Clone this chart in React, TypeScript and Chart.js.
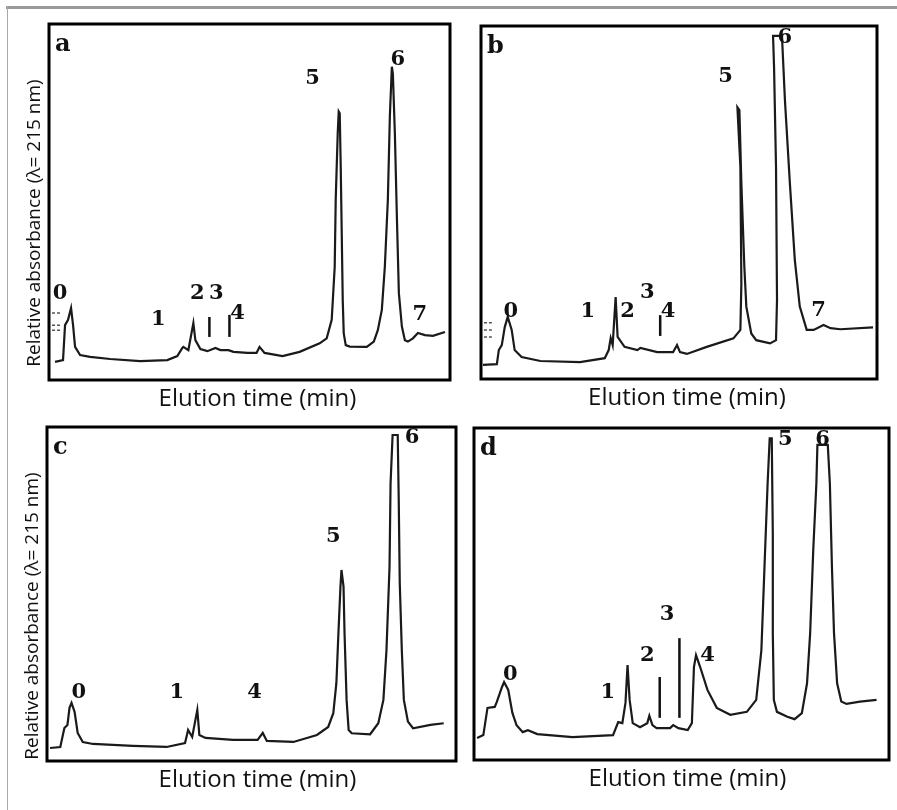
import React, { useEffect, useRef } from "react";
import { Chart, registerables } from "chart.js";

Chart.register(...registerables);

// ---------------- DATA ----------------
// Elution time (arbitrary min, 0-40) and relative absorbance (0-100)

// Panel a
const timeA = [0.6, 1.4, 1.6, 1.9, 2.2, 2.4, 2.6, 3.1, 4.1, 6.1, 9.1, 11.8, 12.8, 13.3, 13.4, 13.9, 14.4, 14.6, 15.1, 15.8, 16.6, 17.1, 17.9, 18.4, 19.8, 20.7, 21.0, 21.5, 23.3, 25.0, 27.0, 27.7, 28.2, 28.5, 28.6, 28.8, 28.9, 29.0, 29.1, 29.2, 29.3, 29.4, 29.6, 30.0, 31.7, 32.4, 32.8, 33.2, 33.5, 33.8, 34.0, 34.2, 34.3, 34.5, 34.7, 34.9, 35.2, 35.5, 35.8, 36.3, 36.8, 37.5, 38.3, 39.5];
const absA = [5.1, 5.6, 15.4, 16.9, 20.2, 15.4, 9.3, 7.0, 6.5, 5.9, 5.3, 5.6, 6.7, 9.0, 9.3, 8.4, 16.0, 11.2, 8.7, 8.1, 9.0, 8.4, 8.4, 7.9, 7.6, 7.6, 9.3, 7.6, 6.7, 7.9, 10.3, 11.7, 16.9, 31.8, 50.6, 69.3, 75.4, 74.9, 59.9, 41.2, 22.5, 13.1, 9.8, 9.4, 9.3, 10.8, 14.0, 19.7, 31.8, 50.6, 74.0, 88.0, 86.1, 69.3, 45.9, 24.4, 15.0, 11.2, 10.8, 11.7, 13.2, 12.6, 12.4, 13.5];
const peakNamesA = ["0", "1", "2", "3", "4", "5", "6", "7"];
const peakTimeA = [1.1, 10.9, 14.8, 16.7, 18.8, 26.3, 34.8, 37.0];
const peakAbsA = [24.4, 16.9, 24.4, 24.4, 18.8, 84.8, 89.9, 18.3];
const markTimeA = [16.0, 18.0];
const markLowA = [12.1, 12.1];
const markHighA = [17.7, 18.3];
const tickAbsA = [18.8, 15.4, 14.0];

// Panel b
const timeB = [0.2, 1.6, 1.8, 2.1, 2.4, 2.7, 3.1, 3.4, 4.1, 6.0, 10.0, 12.5, 12.9, 13.1, 13.3, 13.6, 13.8, 14.5, 15.8, 16.1, 17.8, 19.4, 19.8, 20.1, 20.8, 22.8, 25.5, 26.2, 26.3, 26.2, 25.9, 26.1, 26.3, 26.6, 26.8, 27.3, 27.8, 29.2, 29.8, 29.9, 29.8, 29.6, 29.5, 30.4, 30.7, 31.2, 31.7, 32.2, 32.9, 33.6, 34.6, 35.3, 36.3, 39.6];
const absB = [4.0, 4.2, 8.2, 9.6, 14.7, 17.6, 13.9, 8.2, 6.2, 5.1, 4.8, 5.9, 8.2, 11.6, 9.6, 23.2, 11.9, 9.1, 8.2, 8.8, 7.6, 7.6, 9.6, 7.6, 7.1, 9.1, 11.5, 13.9, 27.1, 60.1, 77.0, 76.2, 55.4, 31.8, 20.5, 12.9, 11.0, 10.1, 11.0, 22.4, 60.1, 88.5, 97.2, 97.2, 79.0, 55.4, 33.7, 20.5, 13.9, 13.9, 15.3, 14.4, 14.1, 14.6];
const peakNamesB = ["0", "1", "2", "3", "4", "5", "6", "7"];
const peakTimeB = [3.0, 10.8, 14.8, 16.8, 18.9, 24.7, 30.7, 34.1];
const peakAbsB = [19.0, 19.0, 19.0, 24.6, 19.0, 85.6, 96.6, 19.5];
const markTimeB = [18.1];
const markLowB = [12.2];
const markHighB = [18.1];
const tickAbsB = [15.9, 13.9, 11.9];

// Panel c
const timeC = [0.3, 1.3, 1.7, 2.0, 2.2, 2.4, 2.7, 3.0, 3.5, 4.5, 8.4, 11.7, 13.5, 13.8, 14.2, 14.7, 14.9, 15.5, 18.2, 20.6, 21.1, 21.5, 24.1, 26.4, 27.5, 28.0, 28.3, 28.5, 28.7, 28.8, 29.0, 29.1, 29.3, 29.5, 29.8, 31.6, 32.4, 32.9, 33.2, 33.5, 33.6, 33.8, 34.3, 34.4, 34.5, 34.7, 34.9, 35.3, 35.8, 37.5, 38.8];
const absC = [3.9, 4.2, 9.9, 10.8, 15.9, 17.4, 14.7, 8.4, 5.7, 5.1, 4.5, 4.2, 5.4, 9.3, 7.2, 15.3, 7.8, 6.9, 6.3, 6.3, 8.4, 6.0, 5.7, 7.8, 10.2, 14.3, 23.3, 38.2, 52.2, 57.2, 52.2, 38.2, 18.3, 9.3, 8.3, 8.0, 11.3, 18.3, 33.2, 58.2, 83.1, 97.6, 97.6, 78.1, 53.2, 33.2, 18.3, 11.8, 9.8, 10.8, 11.3];
const peakNamesC = ["0", "1", "4", "5", "6"];
const peakTimeC = [3.1, 12.7, 20.3, 28.0, 35.7];
const peakAbsC = [20.4, 20.4, 20.4, 67.1, 96.7];

// Panel d
const timeD = [0.3, 0.9, 1.3, 2.0, 2.2, 2.7, 2.9, 3.3, 3.7, 4.1, 4.7, 5.2, 6.1, 9.5, 13.4, 13.9, 14.3, 14.6, 14.8, 15.0, 15.3, 16.0, 16.7, 16.9, 17.2, 17.6, 18.9, 19.2, 19.7, 20.6, 21.0, 21.2, 21.4, 21.8, 22.5, 23.4, 24.7, 26.3, 27.2, 27.7, 28.0, 28.3, 28.5, 28.7, 28.8, 28.8, 28.9, 29.2, 30.2, 30.9, 31.6, 32.1, 32.4, 32.7, 33.0, 33.1, 34.1, 34.3, 34.5, 34.7, 35.0, 35.4, 35.9, 37.2, 38.8];
const absD = [6.6, 7.5, 15.7, 16.0, 17.5, 22.0, 23.5, 21.1, 14.2, 10.5, 8.4, 9.0, 7.8, 6.9, 7.5, 11.4, 11.1, 17.2, 28.6, 18.1, 11.1, 9.9, 11.1, 13.3, 10.5, 9.6, 9.6, 10.5, 9.6, 9.0, 11.1, 28.0, 31.6, 28.0, 21.1, 15.7, 13.6, 14.5, 18.1, 33.1, 58.2, 83.3, 96.9, 96.9, 68.3, 38.2, 18.1, 14.5, 13.0, 12.3, 14.1, 23.1, 38.2, 63.3, 83.3, 94.9, 94.9, 83.3, 58.2, 38.2, 23.1, 17.6, 16.9, 17.6, 18.1];
const peakNamesD = ["0", "1", "2", "3", "4", "5", "6"];
const peakTimeD = [3.5, 12.9, 16.7, 18.6, 22.5, 30.0, 33.6];
const peakAbsD = [25.6, 20.2, 31.6, 43.7, 31.6, 96.4, 96.4];
const markTimeD = [17.9, 19.8];
const markLowD = [12.7, 12.7];
const markHighD = [25.0, 36.7];

const panelLetters = ["a", "b", "c", "d"];
const xTitle = "Elution time (min)";
const yTitle = "Relative absorbance (\u03bb= 215 nm)";

// ---------------- LAYOUT ----------------
const W = 897;
const H = 810;

type PanelDef = {
  letter: string;
  time: number[];
  abs: number[];
  names: string[];
  nTime: number[];
  nAbs: number[];
  markT: number[];
  markLo: number[];
  markHi: number[];
  ticks: number[];
  frame: [number, number, number, number];
  showY: boolean;
  yRaise: number;
  xShift: number;
};

const panels: PanelDef[] = [
  { letter: panelLetters[0], time: timeA, abs: absA, names: peakNamesA, nTime: peakTimeA, nAbs: peakAbsA, markT: markTimeA, markLo: markLowA, markHi: markHighA, ticks: tickAbsA, frame: [49, 24, 450, 380], showY: true, yRaise: 157, xShift: 8 },
  { letter: panelLetters[1], time: timeB, abs: absB, names: peakNamesB, nTime: peakTimeB, nAbs: peakAbsB, markT: markTimeB, markLo: markLowB, markHi: markHighB, ticks: tickAbsB, frame: [481, 26, 877, 379], showY: false, yRaise: 0, xShift: 8 },
  { letter: panelLetters[2], time: timeC, abs: absC, names: peakNamesC, nTime: peakTimeC, nAbs: peakAbsC, markT: [], markLo: [], markHi: [], ticks: [], frame: [47, 427, 456, 761], showY: true, yRaise: 145, xShift: 6 },
  { letter: panelLetters[3], time: timeD, abs: absD, names: peakNamesD, nTime: peakTimeD, nAbs: peakAbsD, markT: markTimeD, markLo: markLowD, markHi: markHighD, ticks: [], frame: [474, 428, 889, 760], showY: false, yRaise: 0, xShift: 6 },
];

const decorPlugin = {
  id: "panelDecor",
  afterDatasetsDraw(chart: any, _args: any, opts: any) {
    const { ctx, chartArea: ca } = chart;
    const xs = chart.scales.x;
    const ys = chart.scales.y;
    const p: PanelDef = opts.panel;
    ctx.save();
    ctx.lineWidth = 3;
    ctx.strokeStyle = "#000";
    ctx.strokeRect(ca.left, ca.top, ca.right - ca.left, ca.bottom - ca.top);

    ctx.fillStyle = "#111";
    ctx.textAlign = "center";
    ctx.textBaseline = "middle";
    ctx.font = 'bold 21px "DejaVu Serif"';
    p.names.forEach((n, i) => {
      ctx.fillText(n, xs.getPixelForValue(p.nTime[i]), ys.getPixelForValue(p.nAbs[i]));
    });
    ctx.font = 'bold 24px "DejaVu Serif"';
    ctx.textAlign = "left";
    ctx.fillText(p.letter, ca.left + 6, ca.top + 21);

    ctx.textAlign = "center";
    ctx.font = '24px "Open Sans"';
    ctx.fillText(xTitle, (ca.left + ca.right) / 2 + p.xShift, ca.bottom + 19);
    if (p.showY) {
      ctx.translate(ca.left - 14, ca.bottom - p.yRaise);
      ctx.rotate(-Math.PI / 2);
      ctx.font = '19px "Open Sans"';
      ctx.fillText(yTitle, 0, 0);
    }
    ctx.restore();
  },
};

function Panel({ p }: { p: PanelDef }) {
  const ref = useRef<HTMLCanvasElement | null>(null);
  useEffect(() => {
    if (!ref.current) return;
    const datasets: any[] = [
      {
        data: p.time.map((t, i) => ({ x: t, y: p.abs[i] })),
        borderColor: "#1a1a1a",
        borderWidth: 2.2,
        pointRadius: 0,
        tension: 0,
      },
    ];
    p.markT.forEach((t, i) => {
      datasets.push({
        data: [
          { x: t, y: p.markLo[i] },
          { x: t, y: p.markHi[i] },
        ],
        borderColor: "#111",
        borderWidth: 2.5,
        pointRadius: 0,
      });
    });
    p.ticks.forEach((a) => {
      datasets.push({
        data: [
          { x: 0.3, y: a },
          { x: 1.1, y: a },
        ],
        borderColor: "#555",
        borderWidth: 1.5,
        borderDash: [3, 2],
        pointRadius: 0,
      });
    });
    const [L, T, R, B] = p.frame;
    const chart = new Chart(ref.current, {
      type: "line",
      data: { datasets },
      options: {
        animation: false,
        responsive: false,
        devicePixelRatio: 1,
        layout: { padding: { left: L, top: T, right: W - R, bottom: H - B } },
        scales: {
          x: { type: "linear", min: 0, max: 40, display: false },
          y: { type: "linear", min: 0, max: 100, display: false },
        },
        plugins: {
          legend: { display: false },
          tooltip: { enabled: false },
          panelDecor: { panel: p },
        } as any,
      },
      plugins: [decorPlugin],
    });
    return () => chart.destroy();
  }, [p]);
  return (
    <canvas
      ref={ref}
      width={W}
      height={H}
      style={{ position: "absolute", left: 0, top: 0, width: W, height: H }}
    />
  );
}

export default function App() {
  return (
    <div style={{ position: "absolute", left: 0, top: 0, width: W, height: H, background: "#fff", overflow: "hidden" }}>
      <div style={{ position: "absolute", left: 6, top: 6, width: W - 6, height: 3, background: "#999" }} />
      <div style={{ position: "absolute", left: 7, top: 6, width: 1, height: H - 6, background: "#aaa" }} />
      {panels.map((p) => (
        <Panel key={p.letter} p={p} />
      ))}
    </div>
  );
}
